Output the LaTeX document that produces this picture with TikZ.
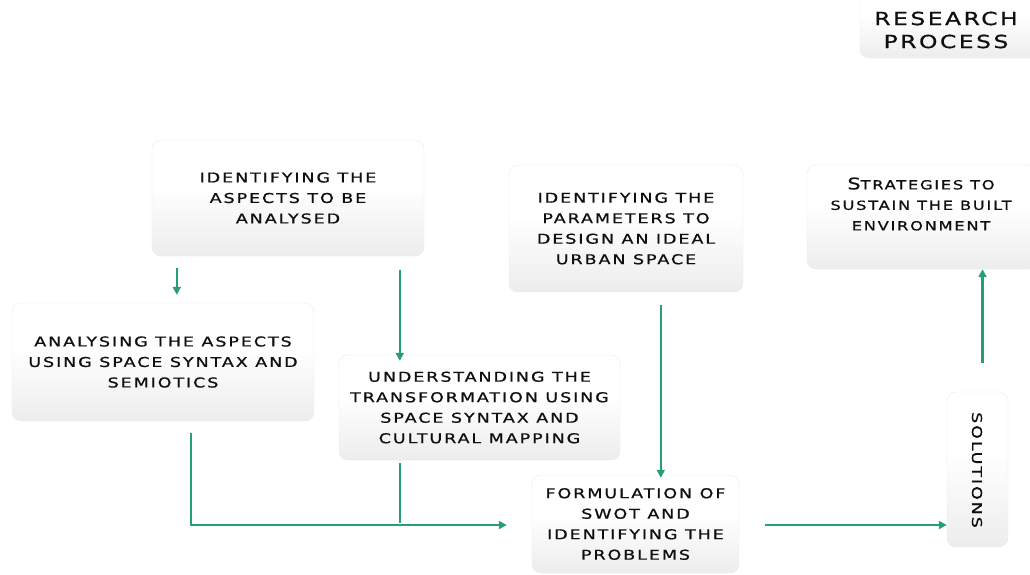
\documentclass[tikz,border=0pt]{standalone}
\usepackage{fontspec}
\usetikzlibrary{arrows.meta,calc}
\newfontfamily\bxfont[FakeStretch=1.3,LetterSpace=14,FakeBold=0.8]{DejaVu Sans}
\definecolor{arrgreen}{RGB}{38,158,120}
\definecolor{txtc}{RGB}{15,15,15}
\pgfdeclareverticalshading{boxshade}{100bp}{color(0bp)=(black!13); color(30bp)=(black!6); color(55bp)=(white); color(100bp)=(white)}
\tikzset{
  pbox/.style={rounded corners=9pt, shading=boxshade, draw=black!8, line width=0.4pt,
    align=center, text=txtc, font=\bxfont\fontsize{13.5}{20.5}\selectfont, inner sep=0pt},
  ptext/.style={align=center, text=txtc, font=\bxfont\fontsize{13.5}{20.5}\selectfont, inner sep=0pt},
  arr/.style={draw=arrgreen, line width=2.4pt, -{Triangle[length=8pt,width=8pt]}},
  ln/.style={draw=arrgreen, line width=2.4pt},
}
\begin{document}
\begin{tikzpicture}[x=1pt,y=-1pt]
\useasboundingbox (0,0) rectangle (1030,574);
\clip (0,0) rectangle (1030,574);
% title
\node[pbox, minimum width=180pt, minimum height=70pt] (rp) at (950,23) {};
\node[ptext, font=\bxfont\fontsize{18}{23}\selectfont] (rpt) at (946,30) {RESEARCH\\PROCESS};
% boxes
\node[pbox, minimum width=272pt, minimum height=116pt] (A) at (288,198) {IDENTIFYING THE\\ASPECTS TO BE\\ANALYSED};
\node[pbox, minimum width=302pt, minimum height=118pt] (B) at (163,362) {ANALYSING THE ASPECTS\\USING SPACE SYNTAX AND\\SEMIOTICS};
\node[pbox, minimum width=281pt, minimum height=105pt] (C) at (479.5,407.5) {UNDERSTANDING THE\\TRANSFORMATION USING\\SPACE SYNTAX AND\\CULTURAL MAPPING};
\node[pbox, minimum width=234pt, minimum height=127pt] (D) at (626,228.5) {IDENTIFYING THE\\PARAMETERS TO\\DESIGN AN IDEAL\\URBAN SPACE};
\node[pbox, minimum width=230pt, minimum height=104pt] (E) at (922,217) {};
\node[ptext] (Et) at (921,204) {{\fontsize{16}{20.5}\selectfont S}{\fontsize{12.5}{20.5}\selectfont TRATEGIES TO}\\{\fontsize{12.5}{20.5}\selectfont SUSTAIN THE BUILT}\\{\fontsize{12.5}{20.5}\selectfont ENVIRONMENT}};
\node[pbox, minimum width=207pt, minimum height=98pt] (F) at (635.5,524) {FORMULATION OF\\SWOT AND\\IDENTIFYING THE\\PROBLEMS};
\node[pbox, minimum width=61pt, minimum height=155pt] (G) at (977.5,469.5) {};
\node[ptext, rotate=-90] (Gt) at (977,470) {SOLUTIONS};
% connectors
\draw[arr] ([xshift=25pt,yshift=-12pt]A.south west) -- ([xshift=165pt,yshift=8pt]B.north west);
\draw[arr] ([xshift=248pt,yshift=-14pt]A.south west) -- ([xshift=61pt,yshift=-6pt]C.north west);
\draw[arr] ([xshift=152pt,yshift=-13pt]D.south west) -- ([xshift=129pt,yshift=-3pt]F.north west);
\coordinate (bs) at ([xshift=179pt,yshift=-12pt]B.south west);
\coordinate (cs) at ([xshift=61pt,yshift=-3pt]C.south west);
\draw[arr] (bs) |- ([xshift=-25pt,yshift=-1pt]F.west);
\draw[ln] (cs) -- ($(cs |- F.west)+(0,1pt)$);
\draw[arr] ([xshift=26pt,yshift=-1pt]F.east) -- ([yshift=-1pt]F.east -| G.west);
\coordinate (gs) at ([xshift=5pt,yshift=29pt]G.north);
\draw[arr] (gs) -- (gs |- E.south);
\end{tikzpicture}
\end{document}
